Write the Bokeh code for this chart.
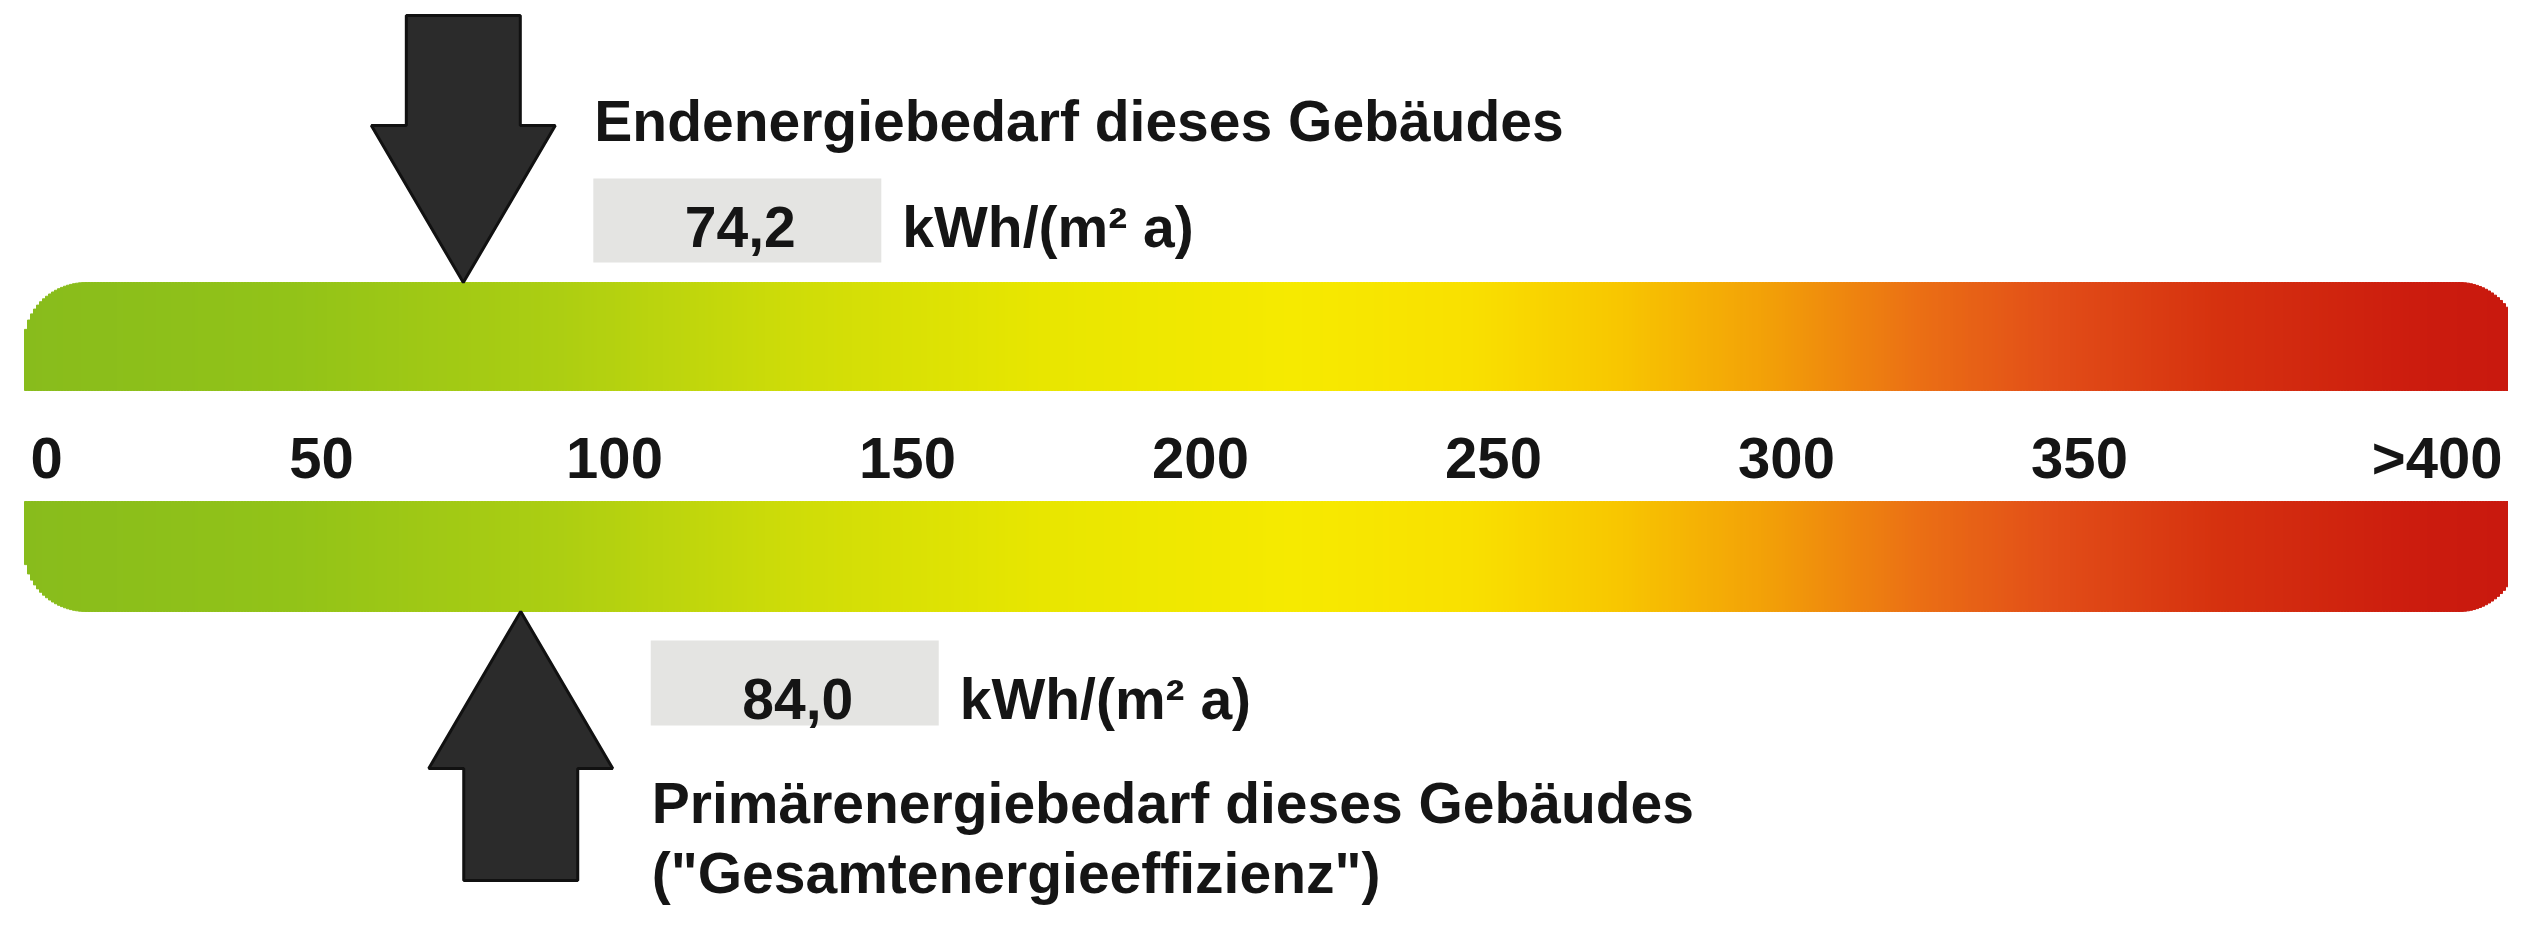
import numpy as np
from bokeh.plotting import figure
from bokeh.models import Range1d
from bokeh.embed import file_html
from bokeh.resources import INLINE
from bokeh.core.properties import value

# ---------------- data ----------------
tick_values = [0, 50, 100, 150, 200, 250, 300, 350, 400]
tick_labels = ["0", "50", "100", "150", "200", "250", "300", "350", ">400"]
marker_titles = ["Endenergiebedarf dieses Gebäudes", "Primärenergiebedarf dieses Gebäudes"]
marker_subtitles = ["", '("Gesamtenergieeffizienz")']
marker_values = [74.2, 84.0]
unit_label = "kWh/(m² a)"

# ---------------- style / layout (canvas pixels) ----------------
W, H = 2508, 909
PX_PER_UNIT = 5.86
ORIGIN = 28.0  # canvas x where value 0 lies

def u(px):
    return (np.asarray(px, dtype=float) - ORIGIN) / PX_PER_UNIT

def px(v):
    return ORIGIN + np.asarray(v, dtype=float) * PX_PER_UNIT

FONT = value("Liberation Sans")
TXT = "#151515"

BAR_L, BAR_R = 24.0, 2524.0
TOP_BAR = (282.0, 390.0)
BOT_BAR = (501.0, 611.0)
TICK_BASELINE = 457.0

# gradient stops (position along scale in value units, colour)
GRAD_POS = [-1, 45, 90, 130, 173, 216, 246, 270, 298, 322, 345, 373, 407, 427]
GRAD_COL = ["#88bc1c", "#92c318", "#acce12", "#cedc08", "#e8e600", "#f6ea00",
            "#f9e000", "#f8c800", "#f29e08", "#eb7014", "#e24e18", "#d6320f",
            "#cc1c0e", "#c8180e"]

def hex2rgb(h):
    return [int(h[i:i + 2], 16) for i in (1, 3, 5)]

GRAD_RGB = np.array([hex2rgb(c) for c in GRAD_COL], dtype=float)

def colour_at(v):
    r = np.interp(v, GRAD_POS, GRAD_RGB[:, 0])
    g = np.interp(v, GRAD_POS, GRAD_RGB[:, 1])
    b = np.interp(v, GRAD_POS, GRAD_RGB[:, 2])
    return "#%02x%02x%02x" % (int(round(r)), int(round(g)), int(round(b)))

def corner_offset(d, rx, ry):
    if d >= rx:
        return 0.0
    t = (rx - d) / rx
    return ry * (1.0 - np.sqrt(max(0.0, 1.0 - t * t)))

def bar_slices(y0, y1, round_top, round_bottom, step=3.0):
    left, right, top, bottom, cols = [], [], [], [], []
    x = BAR_L
    while x < BAR_R:
        x2 = min(x + step, BAR_R)
        xc = 0.5 * (x + x2)
        dl, dr = xc - BAR_L, BAR_R - xc
        off = max(corner_offset(dl, 62, 60), corner_offset(dr, 65, 78))
        t = y0 + (off if round_top else 0.0)
        b = y1 - (off if round_bottom else 0.0)
        left.append(float(u(x)))
        right.append(float(u(x2)))
        top.append(t)
        bottom.append(b)
        cols.append(colour_at(float(u(xc))))
        x = x2
    return dict(left=left, right=right, top=top, bottom=bottom, color=cols)

p = figure(width=W, height=H,
           x_range=Range1d(float(u(0)), float(u(W))),
           y_range=Range1d(H, 0),
           output_backend="svg", toolbar_location=None,
           x_axis_location=None, y_axis_location=None,
           min_border=0)
p.grid.visible = False
p.outline_line_color = None
p.background_fill_color = "white"
p.border_fill_color = "white"

# ---------------- gradient bars ----------------
for (y0, y1), rt, rb in [(TOP_BAR, True, False), (BOT_BAR, False, True)]:
    s = bar_slices(y0, y1, rt, rb)
    p.quad(left=s["left"], right=s["right"], top=s["top"], bottom=s["bottom"],
           fill_color=s["color"], line_color=s["color"], line_width=1)

# ---------------- scale labels ----------------
mid_v = tick_values[1:-1]
mid_l = tick_labels[1:-1]
p.text(x=mid_v, y=[TICK_BASELINE] * len(mid_v), text=mid_l,
       text_font=FONT, text_font_style="bold", text_font_size="58px",
       text_align="center", text_baseline="alphabetic", text_color=TXT)
p.text(x=[float(u(BAR_L + 6))], y=[TICK_BASELINE], text=[tick_labels[0]],
       text_font=FONT, text_font_style="bold", text_font_size="58px",
       text_align="left", text_baseline="alphabetic", text_color=TXT)
p.text(x=[float(u(W - 6))], y=[TICK_BASELINE], text=[tick_labels[-1]],
       text_font=FONT, text_font_style="bold", text_font_size="58px",
       text_align="right", text_baseline="alphabetic", text_color=TXT)

# ---------------- markers (arrows + value boxes + titles) ----------------
SHAFT_HW, HEAD_HW = 57.0, 92.0
HEAD_LEN = 157.0

def arrow(v, tip_y, direction, shaft_len):
    # direction = -1: arrow points down (body above tip); +1: arrow points up (body below)
    t = px(v)
    hb = tip_y + direction * HEAD_LEN
    end = hb + direction * shaft_len
    xs = [t, t - HEAD_HW, t - SHAFT_HW, t - SHAFT_HW, t + SHAFT_HW, t + SHAFT_HW, t + HEAD_HW]
    ys = [tip_y, hb, hb, end, end, hb, hb]
    return [float(a) for a in u(xs)], ys

def fmt(v):
    return ("%.1f" % v).replace(".", ",")

# (tip y, direction, shaft length, box top, box bottom, value baseline, title baselines)
marker_layout = [
    (TOP_BAR[0], -1, 110.0, 178.0, 262.0, 226.0, [120.0]),
    (BOT_BAR[1], +1, 112.0, 640.0, 725.0, 698.0, [802.0, 872.0]),
]

for v, title, sub, (tip_y, d, sl, bt, bb, vb, tb) in zip(
        marker_values, marker_titles, marker_subtitles, marker_layout):
    xs, ys = arrow(v, tip_y, d, sl)
    p.patch(xs, ys, fill_color="#2b2b2b", line_color="#111111", line_width=3)

    t = float(px(v))
    p.quad(left=[float(u(t + 130))], right=[float(u(t + 418))], top=[bt], bottom=[bb],
           fill_color="#e4e4e2", line_color=None)
    p.text(x=[float(u(t + 277))], y=[vb], text=[fmt(v)],
           text_font=FONT, text_font_style="bold", text_font_size="57px",
           text_align="center", text_baseline="alphabetic", text_color=TXT)
    p.text(x=[float(u(t + 439))], y=[vb], text=[unit_label],
           text_font=FONT, text_font_style="bold", text_font_size="57px",
           text_align="left", text_baseline="alphabetic", text_color=TXT)
    lines = [title] + ([sub] if sub else [])
    p.text(x=[float(u(t + 131))] * len(lines), y=tb[:len(lines)], text=lines,
           text_font=FONT, text_font_style="bold", text_font_size="57px",
           text_align="left", text_baseline="alphabetic", text_color=TXT)

open("out.html", "w").write(file_html(p, INLINE))
